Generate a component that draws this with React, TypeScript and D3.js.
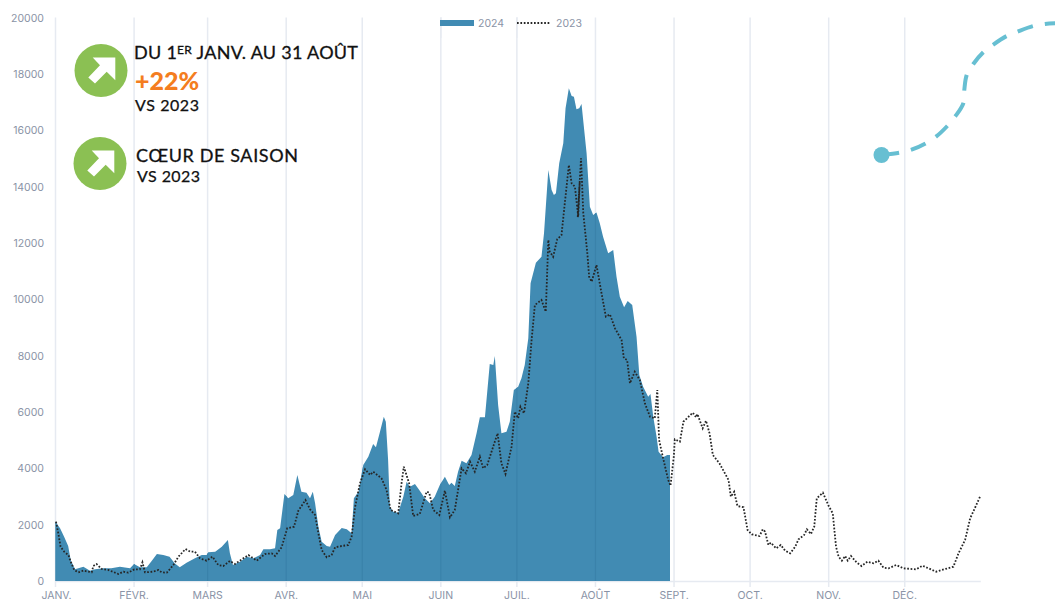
import React from "react";
import * as d3 from "d3";

const monthLabels = ["JANV.", "FÉVR.", "MARS", "AVR.", "MAI", "JUIN", "JUIL.", "AOÛT", "SEPT.", "OCT.", "NOV.", "DÉC."];
const monthDays = [0, 31, 60, 91, 121, 152, 182, 213, 244, 274, 305, 335];
const yTicks = d3.range(0, 20001, 2000);

const days2024 = [0,1.8,3.4,5,6,7.7,11,13.6,15.6,18.9,22,25.4,29.4,31,33.3,36,38,40,42.5,45,47,49,51.7,55,57.7,59.6,60.3,63,65.6,68,68.8,70,72.8,75.4,78,80.7,82,84.6,86.6,87.5,88.6,90.3,91.8,93.8,95.4,97,99,100.4,101.5,102.4,103.7,105,107,108.3,110.3,112.9,114.9,116.8,117.7,119.5,121.4,123.4,125.3,126.4,128,129.5,130.3,131.2,131.9,133.2,135.2,137.2,138.5,139.8,141.8,143.7,145.7,147.7,149.6,151.6,153.6,155.3,156.2,157.5,158.8,160.2,162.1,164.1,166.1,167.4,169.4,171.3,172.7,173.3,174.6,175.9,177.9,179.2,180.8,182.5,183.8,185.1,186.5,187.4,189.5,191.7,192.7,194.4,195.7,196.6,197.4,198.7,200.3,201.2,202.5,203.6,204.5,205.5,206.6,207.5,209.5,210.8,212.1,213.4,214.7,216,218,220,221.3,222.6,224.3,225.7,227.5,229.2,230.3,231.8,233.8,234.7,235.8,237.1,237.9,239.7,241.3,242.4];
const values2024 = [2106,1870,1573,1242,745,414,509,367,414,450,450,509,450,603,485,485,722,958,923,864,627,485,651,804,923,923,1017,1041,1218,1455,982,568,686,864,804,923,1124,1124,1159,1810,1869,3088,2934,3052,3762,3170,3135,2934,3170,2756,1928,1396,1242,1218,1632,1881,1834,1692,2934,3170,4117,4413,4862,4744,5300,5832,5655,4294,2638,2460,2425,2993,3525,3348,3443,3206,2934,2756,2993,3407,3703,3407,3490,3372,3880,4271,4176,4472,5241,5809,5809,7701,7666,7985,6246,5241,5300,5655,6779,6897,7193,7666,8612,10564,11298,11510,12339,14587,13877,13699,13758,14823,15533,16775,17485,17213,17189,16740,16775,16929,15178,13285,12989,13083,12694,12221,11629,11747,10800,10091,9712,9937,9795,8671,7311,6897,6542,6637,5832,5122,4590,4389,4472,4472];

const days2023 = [0.2,1.1,2,3.4,5.1,6,7.4,9,11,14.3,14.9,16.2,18.2,20.8,24.8,26.8,28.7,31.1,33.3,34.3,35.3,38.6,40.6,41.9,43.9,46.5,48.5,51.3,53.1,55,57,59.6,61.9,64.2,66.2,68.8,70.8,74.1,76.1,79.4,82.6,85.3,86.6,89.2,91.4,94.1,95.8,98.6,100.4,102.4,103.7,105,107,108.9,110.3,112.9,115.5,116.8,118.2,120.1,122.1,124.1,125.3,128.6,130.6,132.2,135.2,136.5,137.4,139.5,141.1,143.7,146.4,147.4,149,151.4,153.6,155.6,157.5,160.2,161.9,163.5,165.4,167.4,168.7,170.3,172,174.4,175.9,177.5,179.9,181.2,182.5,183.4,184.8,186.5,187.8,189.1,191.7,193.4,194.4,194.9,196.3,197.9,199.6,200.9,202.5,203.6,204.9,206.2,206.8,206.0,207.3,208.2,209.8,210.5,211.5,213.4,215.4,217.1,218.7,220.7,223.3,224.2,225.5,226.6,228.5,230.5,232.5,234.5,236.4,237.4,238.1,239.7,241.7,242.6,243.9,244.3,246.3,247.7,251.4,252.7,253.2,255.3,256.6,258,259.3,261.9,265.5,266.4,267.7,269,271.4,273,274.7,277.7,279,279.9,281.2,282.2,284.3,286.1,287.8,289.8,291.8,293.1,295.3,296.4,298,299.3,300.3,302.7,305,306.6,307.9,308.9,310.2,311.5,312.5,313.8,316,318,320.3,322.7,324.6,326.6,328.6,331.6,334.5,339.5,342,347.4,351,354.2,356.2,358.8,360.8,362.8,364.7];
const values2023 = [2106,1692,1218,1041,923,686,391,308,367,308,532,603,426,391,249,331,296,414,414,663,308,331,391,308,296,568,864,1135,1041,1041,804,722,864,568,532,710,603,804,923,722,958,982,887,1195,1869,1928,2496,2874,2543,2342,1692,1100,840,923,1195,1242,1277,1573,2638,3467,3964,3762,3880,3644,3230,2520,2401,3466,4058,3466,2307,2378,3170,3135,2520,2342,3206,2260,2520,3999,3821,4235,3880,4413,3999,4117,4590,5241,4176,3797,4767,6010,5773,6187,5950,7015,8553,9795,9973,9559,12102,11700,11510,12126,12280,13403,14764,14113,13995,12930,14200,12900,15000,13048,11629,10800,10623,11215,10209,9381,9464,8967,8553,7902,7843,7015,7429,7133,6305,5832,5773,6779,5004,4353,3584,3383,4412,5027,4945,5655,5974,5808,5927,5418,5690,5241,4472,4176,3584,2993,3170,2662,2614,1810,1656,1597,1834,1751,1278,1360,1159,1278,1077,982,1218,1479,1632,1834,1668,1928,2934,3135,2662,2401,1218,864,722,887,722,887,662,532,686,627,722,473,450,568,450,414,544,331,426,509,982,1455,2224,2614,2993];

const decoX = [881.5,899.3,910.7,925.7,936,947.3,955,963.3,964.3,966.7,973.3,983.3,992.7,1006.7,1017.3,1033.3,1045,1057];
const decoY = [155,152.7,150,143.3,136.7,126,116.7,103.3,90,75,64,52.3,45,36,31.7,26,24,23.3];

const x = d3.scaleLinear().domain([0, 365]).range([55.5, 980.8]);
const y = d3.scaleLinear().domain([0, 20000]).range([581, 17.5]);

const pts2024: [number, number][] = days2024.map((d, i) => [d, values2024[i]]);
const pts2023: [number, number][] = days2023.map((d, i) => [d, values2023[i]]);

const areaPath = d3.area<[number, number]>().x(d => x(d[0])).y0(y(0)).y1(d => y(d[1]))(pts2024)!;
const linePath = d3.line<[number, number]>().x(d => x(d[0])).y(d => y(d[1]))(pts2023)!;
const decoPath = d3.line<number>().x(d => d).y((_, i) => decoY[i]).curve(d3.curveCatmullRom)(decoX)!;

const gridColor = "#e6eaf1";
const tickColor = "#8a93a6";
const areaColor = "#418bb3";
const dotColor = "#262626";
const uiFont = "Inter, 'Open Sans', sans-serif";
const titleFont = "Lato, 'Open Sans', sans-serif";

function Badge({ cx, cy }: { cx: number; cy: number }) {
  return (
    <g transform={`translate(${cx},${cy})`}>
      <circle r={26.5} fill="#8bc053" />
      <path d="M-8.3,-13 L14.3,-13 L14.3,9.7 L5.7,1.3 L-6,13 L-12.7,7 L-1,-5.3 Z" fill="#fff" />
    </g>
  );
}

export default function App() {
  return (
    <svg
      width={1055}
      height={601}
      style={{ position: "absolute", left: 0, top: 0, background: "#fff" }}
    >
      <defs>
        <clipPath id="areaClip">
          <path d={areaPath} />
        </clipPath>
      </defs>
      {monthDays.map(d => (
        <line key={d} x1={x(d)} x2={x(d)} y1={y(20000)} y2={587} stroke={gridColor} strokeWidth={1.5} />
      ))}
      <line x1={x(0)} x2={x(365)} y1={y(0) + 0.5} y2={y(0) + 0.5} stroke={gridColor} strokeWidth={1.5} />
      <path d={areaPath} fill={areaColor} />
      <g clipPath="url(#areaClip)">
        {monthDays.map(d => (
          <line key={d} x1={x(d)} x2={x(d)} y1={y(20000)} y2={y(0)} stroke="#3a82aa" strokeWidth={1.2} />
        ))}
      </g>
      <path d={linePath} fill="none" stroke={dotColor} strokeWidth={1.8} strokeDasharray="1.7 1.7" />

      {yTicks.map(t => (
        <text key={t} x={44} y={y(t) + 4} textAnchor="end" fontFamily={uiFont} fontSize={10.5} fill={tickColor}>
          {t}
        </text>
      ))}
      {monthDays.map((d, i) => (
        <text key={d} x={x(d) + (i === 0 ? 1 : 0)} y={598.5} textAnchor="middle" fontFamily={uiFont} fontSize={10.5} fill={tickColor}>
          {monthLabels[i]}
        </text>
      ))}

      <line x1={441} x2={441} y1={17} y2={38} stroke={gridColor} strokeWidth={1} />
      <line x1={517} x2={517} y1={17} y2={38} stroke={gridColor} strokeWidth={1} />
      <rect x={440} y={20} width={34} height={6} fill={areaColor} />
      <text x={478} y={27} fontFamily={uiFont} fontSize={10.5} fill={tickColor}>2024</text>
      <line x1={517} x2={550} y1={23} y2={23} stroke={dotColor} strokeWidth={1.8} strokeDasharray="1.7 1.7" />
      <text x={556} y={27} fontFamily={uiFont} fontSize={10.5} fill={tickColor}>2023</text>

      <Badge cx={101} cy={70.5} />
      <Badge cx={100} cy={163.5} />

      <text x={134} y={59} fontFamily={titleFont} fontSize={18} fill="#111" stroke="#111" strokeWidth={0.3} textLength={224} lengthAdjust="spacing">
        DU 1<tspan fontSize={12} dy={-5}>ER</tspan><tspan dy={5}> JANV. AU 31 AOÛT</tspan>
      </text>
      <text x={135} y={90} fontFamily={titleFont} fontSize={25} fontWeight={900} fill="#f47d20">+22%</text>
      <text x={135} y={111} fontFamily={titleFont} fontSize={16} fill="#111" stroke="#111" strokeWidth={0.25} textLength={64} lengthAdjust="spacing">VS 2023</text>
      <text x={136} y={162} fontFamily={titleFont} fontSize={18} fill="#111" stroke="#111" strokeWidth={0.3} textLength={162} lengthAdjust="spacing">CŒUR DE SAISON</text>
      <text x={137} y={182} fontFamily={titleFont} fontSize={16} fill="#111" stroke="#111" strokeWidth={0.25} textLength={63} lengthAdjust="spacing">VS 2023</text>

      <path
        d={decoPath}
        fill="none"
        stroke="#67bfd2"
        strokeWidth={4}
        strokeDasharray="16 12.2"
        strokeDashoffset={-1.7}
      />
      <circle cx={881.5} cy={155} r={8} fill="#67bfd2" />
    </svg>
  );
}
